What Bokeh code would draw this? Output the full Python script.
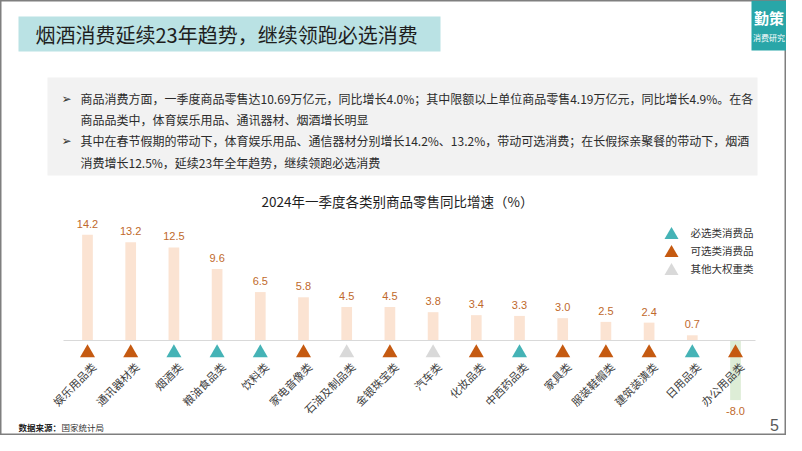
import numpy as np
from bokeh.plotting import figure
from bokeh.models import Range1d, ColumnDataSource
from bokeh.core.properties import value
from bokeh.embed import file_html
from bokeh.resources import INLINE

# ---------------- data ----------------
categories = ["娱乐用品类", "通讯器材类", "烟酒类", "粮油食品类", "饮料类", "家电音像类",
              "石油及制品类", "金银珠宝类", "汽车类", "化妆品类", "中西药品类", "家具类",
              "服装鞋帽类", "建筑装潢类", "日用品类", "办公用品类"]
growth = [14.2, 13.2, 12.5, 9.6, 6.5, 5.8, 4.5, 4.5, 3.8, 3.4, 3.3, 3.0, 2.5, 2.4, 0.7, -8.0]
group = ["可选", "可选", "必选", "必选", "必选", "可选", "其他", "可选", "其他", "可选",
         "必选", "可选", "可选", "可选", "必选", "可选"]
legend_groups = ["必选", "可选", "其他"]
legend_labels = ["必选类消费品", "可选类消费品", "其他大权重类"]

page_title = "烟酒消费延续23年趋势，继续领跑必选消费"
chart_title = "2024年一季度各类别商品零售同比增速（%）"
bullet_lines = [
    "商品消费方面，一季度商品零售达10.69万亿元，同比增长4.0%；其中限额以上单位商品零售4.19万亿元，同比增长4.9%。在各",
    "商品品类中，体育娱乐用品、通讯器材、烟酒增长明显",
    "其中在春节假期的带动下，体育娱乐用品、通信器材分别增长14.2%、13.2%，带动可选消费；在长假探亲聚餐的带动下，烟酒",
    "消费增长12.5%，延续23年全年趋势，继续领跑必选消费",
]
bullet_marks = ["➢", "", "➢", ""]
source_label = "数据来源："
source_name = "国家统计局"
page_number = "5"
logo_big = "勤策"
logo_small = "消费研究"

# ---------------- styles ----------------
CJK = value("Noto Sans CJK SC")
group_colors = {"必选": "#45B3B6", "可选": "#C55A11", "其他": "#D9D9D9"}
pos_bar = "#FBE3D2"
neg_bar = "#DDEDD6"
label_color = "#C0692C"

W, H = 786, 435
X0, Y0 = 0, 0                 # picture origin (reference pixel coords)
step = 43.2                   # px per category
x_first = 87.0                # px of first category
base_y = 340.0                # px of zero line
ppu = 7.45                    # px per percent

x_range = Range1d((X0 - x_first) / step, (X0 + W - x_first) / step)
y_range = Range1d((base_y - (Y0 + H)) / ppu, (base_y - Y0) / ppu)

p = figure(width=W, height=H, x_range=x_range, y_range=y_range,
           output_backend="svg", toolbar_location=None,
           x_axis_location=None, y_axis_location=None,
           min_border=0, min_border_left=0, min_border_right=0,
           min_border_top=0, min_border_bottom=0)
p.extra_x_ranges = {"px": Range1d(X0, X0 + W)}
p.extra_y_ranges = {"px": Range1d(Y0 + H, Y0)}
p.grid.visible = False
p.background_fill_color = "white"
p.border_fill_color = "white"
p.outline_line_color = "#7F7F7F"
p.outline_line_width = 2

PX = dict(x_range_name="px", y_range_name="px")

# header band & logo
p.quad(left=18, right=440, top=16, bottom=51, fill_color="#BAE2E4", line_color=None, **PX)
p.text(x=[35], y=[33.5], text=[page_title], text_font=CJK, text_font_size="20px",
       text_color="#1E1E1E", text_baseline="middle", text_align="left", **PX)
p.quad(left=751, right=802, top=0, bottom=50, fill_color="#29A6A8", line_color=None, **PX)
p.text(x=[768.5], y=[17], text=[logo_big], text_font=CJK, text_font_size="15px",
       text_font_style="bold", text_color="white", text_align="center", text_baseline="middle", **PX)
p.text(x=[768.5], y=[37], text=[logo_small], text_font=CJK, text_font_size="8px",
       text_color="white", text_align="center", text_baseline="middle", **PX)

# text box
p.quad(left=47, right=757, top=77, bottom=175, fill_color="#F2F2F2", line_color=None, **PX)
line_y = [98, 119, 140, 161.5]
p.text(x=[66] * 4, y=line_y, text=bullet_marks, text_font=value("DejaVu Sans"),
       text_font_size="12px", text_color="#333333", text_align="center", text_baseline="middle", **PX)
p.text(x=[80] * 4, y=line_y, text=bullet_lines, text_font=CJK, text_font_size="12px",
       text_color="#2B2B2B", text_align="left", text_baseline="middle", **PX)

# chart title
p.text(x=[397], y=[200], text=[chart_title], text_font=CJK, text_font_size="13.5px",
       text_color="#1E1E1E", text_align="center", text_baseline="middle", **PX)

# bars
idx = np.arange(len(categories))
g = np.array(growth)
src = ColumnDataSource(dict(
    x=idx, top=g, cat=categories,
    bar_color=[pos_bar if v >= 0 else neg_bar for v in growth],
    tri_color=[group_colors[k] for k in group],
    lab=[f"{v:.1f}" for v in growth],
    ly=np.where(g >= 0, g + 11 / ppu, g - 11 / ppu),
))
p.vbar(x="x", top="top", bottom=0, width=10.7 / step, fill_color="bar_color",
       line_color=None, source=src)

# zero line
p.segment(x0=[63], x1=[755], y0=[base_y], y1=[base_y], line_color="#D9D9D9", line_width=1, **PX)

# value labels
p.text(x="x", y="ly", text="lab", source=src, text_font=value("Liberation Sans"),
       text_font_size="11px", text_color=label_color, text_align="center", text_baseline="middle")

# group triangles
p.scatter(x="x", y=352.5, marker="triangle", size=15, fill_color="tri_color",
          line_color=None, source=src, y_range_name="px")

# category labels
p.text(x="x", y=364, text="cat", source=src, x_offset=6, angle=np.pi / 4,
       text_font=CJK, text_font_size="11px", text_color="#404040",
       text_align="right", text_baseline="middle", y_range_name="px")

# legend
leg_y = [234.5, 252.5, 270.5]
p.scatter(x=[671] * 3, y=leg_y, marker="triangle", size=14,
          fill_color=[group_colors[k] for k in legend_groups], line_color=None, **PX)
p.text(x=[690] * 3, y=[231.5, 249.5, 267.5], text=legend_labels, text_font=CJK,
       text_font_size="10.5px", text_color="#333333", text_align="left", text_baseline="middle", **PX)

# footer
p.text(x=[18], y=[426], text=[source_label], text_font=CJK, text_font_size="8.5px",
       text_font_style="bold", text_color="#222222", text_align="left", text_baseline="middle", **PX)
p.text(x=[61], y=[426], text=[source_name], text_font=CJK, text_font_size="8.5px",
       text_color="#333333", text_align="left", text_baseline="middle", **PX)
p.text(x=[774], y=[424], text=[page_number], text_font=value("Liberation Sans"), text_font_size="16px",
       text_color="#595959", text_align="center", text_baseline="middle", **PX)

open("out.html", "w").write(file_html(p, INLINE))
